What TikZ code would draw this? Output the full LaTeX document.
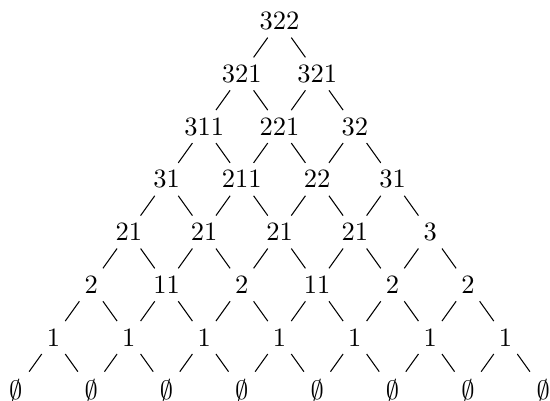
\documentclass[tikz,border=0pt]{standalone}
\begin{document}
\begin{tikzpicture}[x=1cm,y=1cm,
  lbl/.style={inner sep=2.8pt},
  edge/.style={line width=0.4pt,black}]
\useasboundingbox (0,0) rectangle (7.3,-5.318);
\newcommand\mkrow[2]{%
  \foreach \lab [count=\j from 0] in {#2} {%
    \node[lbl] (n#1-\j) at ({3.71+(2*\j-#1)*0.5},{-0.28-0.7*#1}) {$\lab$};}}
\mkrow{0}{322}
\mkrow{1}{321,321}
\mkrow{2}{311,221,32}
\mkrow{3}{31,211,22,31}
\mkrow{4}{21,21,21,21,3}
\mkrow{5}{2,11,2,11,2,2}
\mkrow{6}{1,1,1,1,1,1,1}
\mkrow{7}{\emptyset,\emptyset,\emptyset,\emptyset,\emptyset,\emptyset,\emptyset,\emptyset}
\foreach \i in {0,...,6} {
  \foreach \j in {0,...,\i} {
    \pgfmathtruncatemacro\ni{\i+1}
    \pgfmathtruncatemacro\nj{\j+1}
    \draw[edge] (n\i-\j) -- (n\ni-\j);
    \draw[edge] (n\i-\j) -- (n\ni-\nj);
  }
}
\end{tikzpicture}
\end{document}
